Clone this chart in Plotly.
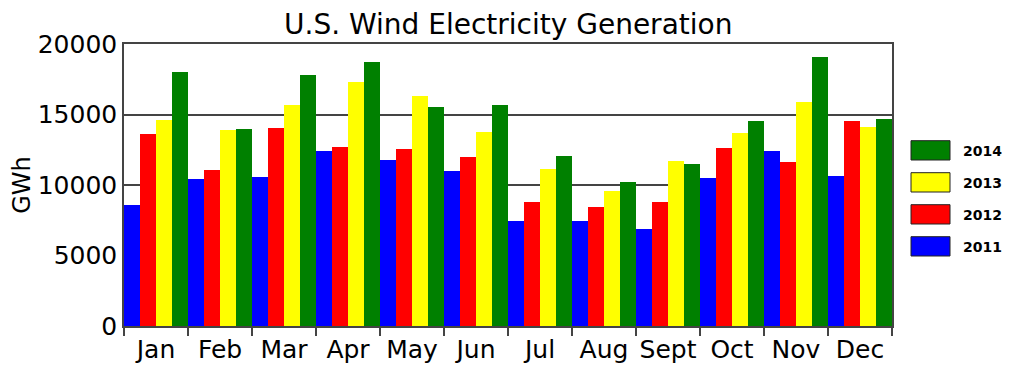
import plotly.graph_objects as go

months = ["Jan", "Feb", "Mar", "Apr", "May", "Jun", "Jul", "Aug", "Sept", "Oct", "Nov", "Dec"]
years = ["2011", "2012", "2013", "2014"]
gen_2011 = [8550, 10450, 10550, 12420, 11800, 10970, 7460, 7460, 6870, 10520, 12440, 10660]
gen_2012 = [13630, 11040, 14030, 12700, 12540, 11970, 8820, 8460, 8790, 12650, 11660, 14530]
gen_2013 = [14640, 13930, 15660, 17320, 16280, 13770, 11140, 9600, 11710, 13720, 15920, 14100]
gen_2014 = [18030, 13980, 17770, 18740, 15500, 15690, 12090, 10190, 11470, 14570, 19050, 14690]
series = [gen_2011, gen_2012, gen_2013, gen_2014]
colors = ["#0000ff", "#ff0000", "#ffff00", "#008000"]

FONT = "DejaVu Sans"
# page offset (default body margin of the html page)
OFF = 8
W, H = 1024 - OFF, 384 - OFF
PL, PR, PT, PB = 124, 892, 44, 326  # desired plot area in screen pixels
PW, PH = PR - PL, PB - PT

fig = go.Figure()
for name, vals, col in zip(years, series, colors):
    fig.add_trace(go.Bar(x=months, y=vals, name=name, marker=dict(color=col, line=dict(width=0)),
                         showlegend=False))

# custom legend (top: 2014 ... bottom: 2011)
shapes = []
annotations = []
for i, (name, col) in enumerate(reversed(list(zip(years, colors)))):
    y0 = 140.7 + 32 * i
    shapes.append(dict(type="rect", xref="paper", yref="paper",
                       x0=(911 - PL) / PW, x1=(950 - PL) / PW,
                       y0=(PB - (y0 + 19.3)) / PH, y1=(PB - y0) / PH,
                       fillcolor=col, line=dict(color="#222222", width=1)))
    annotations.append(dict(xref="paper", yref="paper", x=(961 - PL) / PW, y=(PB - (y0 + 10)) / PH,
                            text="<b>%s</b>" % name, showarrow=False, xanchor="left", yanchor="middle",
                            font=dict(family=FONT, size=14, color="black")))

# chart title as an annotation just above the plot area
annotations.append(dict(xref="paper", yref="paper", x=0.5, y=1, yshift=1,
                        text="U.S. Wind Electricity Generation", showarrow=False,
                        xanchor="center", yanchor="bottom",
                        font=dict(family=FONT, size=28, color="black")))

fig.update_layout(
    width=W, height=H,
    margin=dict(l=PL - OFF, r=W - (PR - OFF), t=PT - OFF, b=H - (PB - OFF), autoexpand=False),
    paper_bgcolor="white", plot_bgcolor="white",
    barmode="group", bargap=0, bargroupgap=0,
    font=dict(family=FONT, color="black"),
    shapes=shapes, annotations=annotations,
)
fig.update_xaxes(showline=True, linecolor="#444444", linewidth=1.5, mirror=True,
                 ticks="outside", tickson="boundaries", ticklen=8, tickcolor="#444444", tickwidth=1.5,
                 tickangle=0, automargin=False,
                 tickfont=dict(family=FONT, size=25, color="black"), showgrid=False)
fig.update_yaxes(range=[0, 20000], tickvals=[0, 5000, 10000, 15000, 20000],
                 ticktext=["0", "5000", "10000", "15000", "20000"],
                 showline=True, linecolor="#444444", linewidth=1.5, mirror=True,
                 showgrid=True, gridcolor="#444444", gridwidth=1.5, zeroline=False,
                 ticks="", automargin=False, tickfont=dict(family=FONT, size=25, color="black"),
                 title=dict(text="GWh", font=dict(family=FONT, size=24, color="black"), standoff=6))

fig.write_html("out.html")
